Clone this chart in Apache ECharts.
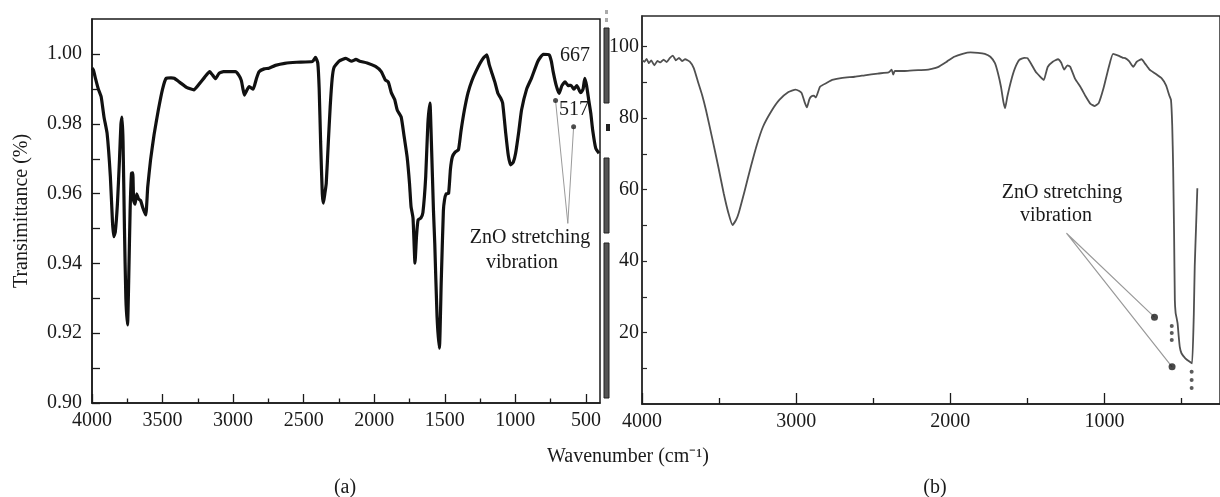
<!DOCTYPE html>
<html><head><meta charset="utf-8">
<script src="https://cdn.jsdelivr.net/npm/echarts@6/dist/echarts.min.js"></script>
<style>html,body{margin:0;padding:0;background:#fff}#c{width:1220px;height:497px}</style>
</head><body><div id="c"></div><script>
// ---- panel (a) spectrum ----
const leftWavenumber = [4000,3990,3975,3955,3935,3915,3893,3870,3855,3846,3835,3820,3805,3795,3787,3780,3770,3760,3748,3740,3730,3720,3711,3705,3695,3683,3670,3655,3640,3619,3605,3585,3560,3530,3500,3474,3440,3418,3380,3330,3278,3240,3200,3166,3145,3124,3100,3068,3020,2984,2960,2942,2930,2920,2905,2886,2858,2835,2816,2780,2746,2700,2634,2550,2438,2416,2400,2390,2380,2368,2360,2350,2340,2325,2312,2298,2285,2250,2201,2160,2130,2103,2050,1991,1950,1921,1900,1879,1855,1837,1809,1790,1767,1750,1739,1725,1711,1700,1689,1670,1655,1635,1620,1605,1595,1580,1571,1555,1538,1525,1510,1502,1490,1473,1460,1446,1425,1403,1385,1361,1335,1306,1280,1250,1225,1202,1185,1165,1145,1124,1105,1090,1068,1050,1034,1015,998,975,956,920,886,840,802,760,745,732,710,690,670,648,625,606,585,564,545,536,520,508,495,480,465,452,430,407];
const leftTransmittance = [0.996,0.9955,0.993,0.990,0.9878,0.982,0.9773,0.965,0.952,0.9477,0.949,0.957,0.970,0.980,0.982,0.975,0.950,0.930,0.9224,0.935,0.955,0.9659,0.966,0.958,0.957,0.960,0.9585,0.958,0.956,0.9539,0.962,0.9697,0.977,0.984,0.990,0.9931,0.9932,0.9931,0.992,0.9905,0.9898,0.9915,0.9935,0.995,0.994,0.993,0.9945,0.995,0.995,0.995,0.994,0.9925,0.990,0.9883,0.9895,0.9907,0.990,0.993,0.995,0.9958,0.996,0.9968,0.9974,0.9977,0.9979,0.9991,0.9975,0.990,0.975,0.960,0.9573,0.960,0.963,0.975,0.985,0.993,0.9962,0.998,0.9988,0.998,0.9985,0.998,0.9975,0.9965,0.995,0.9926,0.992,0.989,0.987,0.984,0.982,0.977,0.9706,0.963,0.9563,0.953,0.9401,0.948,0.9525,0.953,0.9546,0.965,0.980,0.986,0.975,0.955,0.9458,0.925,0.9157,0.935,0.955,0.9582,0.960,0.9601,0.967,0.9706,0.972,0.9726,0.978,0.984,0.989,0.9926,0.995,0.9974,0.999,0.9998,0.997,0.9945,0.992,0.9888,0.9875,0.986,0.9773,0.971,0.9683,0.969,0.9716,0.978,0.984,0.990,0.9931,0.998,1.000,0.9998,0.998,0.995,0.991,0.9888,0.991,0.9921,0.991,0.9911,0.990,0.991,0.9895,0.989,0.990,0.9931,0.991,0.9869,0.983,0.9783,0.973,0.9716];

// ---- panel (b) spectrum ----
const rightWavenumber = [4000,3985,3970,3955,3940,3920,3900,3880,3860,3840,3820,3800,3780,3760,3740,3720,3690,3664,3637,3610,3585,3545,3505,3470,3439,3413,3390,3373,3335,3294,3255,3215,3160,3109,3050,3004,2980,2964,2945,2930,2915,2904,2885,2872,2845,2800,2766,2700,2620,2555,2470,2400,2380,2370,2360,2300,2240,2159,2120,2080,2020,1974,1920,1869,1820,1776,1740,1710,1690,1671,1655,1644,1630,1604,1580,1552,1520,1499,1470,1446,1420,1393,1380,1367,1335,1301,1280,1261,1240,1222,1190,1156,1120,1090,1063,1037,1005,971,944,910,880,865,840,813,790,759,735,707,670,627,600,580,568,560,554,548,543,538,533,525,518,511,500,475,446,431,420,414,405,397];
const rightTransmittance = [96.3,95.8,96.6,95.4,96.2,94.8,96.0,95.6,96.4,95.7,96.8,97.5,96.2,96.9,96.0,96.5,95.8,94.0,90.2,86.5,82.3,74.5,66.4,59.0,53.4,50.1,51.5,53.4,59.5,66.4,72.5,77.6,82.0,85.1,87.3,88.0,87.6,87.0,84.5,83.0,85.2,86.0,86.3,85.8,88.8,89.9,90.7,91.3,91.6,92.0,92.5,92.8,93.6,92.2,93.2,93.2,93.4,93.5,93.8,94.3,95.9,97.2,98.0,98.4,98.3,98.0,97.2,95.4,92.5,88.8,84.5,82.8,86.0,90.7,94.0,96.3,96.9,96.8,94.8,93.0,91.8,90.7,92.5,94.4,95.8,96.5,95.5,93.6,94.8,94.4,91.0,88.8,86.0,84.0,83.4,84.2,88.5,94.4,98.0,97.5,96.9,96.8,96.0,94.4,95.8,96.5,95.2,93.6,92.5,91.1,89.2,86.5,85.1,78.0,66.4,48.0,29.1,25.5,24.4,22.5,19.0,16.0,14.2,12.8,11.8,11.4,25.0,38.4,50.0,60.4];

// ---- axis ticks / labels ----
const leftXLabels = [500,1000,1500,2000,2500,3000,3500,4000];
const leftXMinorTicks = [750,1250,1750,2250,2750,3250,3750];
const leftYLabels = [0.90,0.92,0.94,0.96,0.98,1.00];
const leftYTicks = [0.90,0.91,0.92,0.93,0.94,0.95,0.96,0.97,0.98,0.99,1.00];
const rightXLabels = [1000,2000,3000,4000];
const rightXMinorTicks = [500,1500,2500,3500];
const rightYLabels = [20,40,60,80,100];
const rightYTicks = [10,20,30,40,50,60,70,80,90,100];

// ---- annotation pointers (data coordinates) ----
const leftPointerApex = [628,0.9515];
const leftPointerDots = [[715,0.9867],[587,0.9792]];
const rightPointerApex = [1246,47.8];
const rightPointerDots = [[675,24.3],[561,10.4]];
const rightSmallDots = [[563,21.8],[563,19.9],[563,17.9],[434,9.0],[434,6.7],[434,4.5]];

const FONT = 'Liberation Serif';
const TXT = '#1a1a1a';
const zip = (a,b) => a.map((v,i)=>[v,b[i]]);

function xAxisCfg(grid, min, max, vals, len, labels){
  return {
    gridIndex: grid, type:'value', inverse:true, min:min, max:max, position:'bottom',
    axisLine:{show:labels, onZero:false, lineStyle:{color:'#1a1a1a', width:1.5}},
    axisTick:{show:true, inside:true, length:len, customValues:vals, lineStyle:{color:'#1a1a1a', width:1.3}},
    axisLabel:{show:labels, customValues:vals, formatter:v=>String(v), fontFamily:FONT, fontSize:20, color:TXT, margin:8},
    splitLine:{show:false}
  };
}

const chart = echarts.init(document.getElementById('c'), null, {renderer:'canvas'});
const textStyle = (t,x,y)=>({type:'text', x:x, y:y, style:{text:t, font:'20px "Liberation Serif"', fill:TXT, textAlign:'center', textVerticalAlign:'middle'}});

const option = {
  backgroundColor:'#fff',
  animation:false,
  grid:[
    {left:92, top:19, width:508, height:384, show:true, borderColor:'#1a1a1a', borderWidth:1.5, backgroundColor:'transparent'},
    {left:642, top:16, width:580, height:388, show:true, borderColor:'#2a2a2a', borderWidth:1.5, backgroundColor:'transparent'}
  ],
  xAxis:[
    xAxisCfg(0,400,4000,leftXLabels,9,true),
    xAxisCfg(0,400,4000,leftXMinorTicks,4.5,false),
    xAxisCfg(1,250,4000,rightXLabels,11,true),
    xAxisCfg(1,250,4000,rightXMinorTicks,6,false)
  ],
  yAxis:[
    {gridIndex:0, type:'value', min:0.9, max:1.0101,
     axisLine:{show:true, lineStyle:{color:'#1a1a1a', width:1.5}},
     axisTick:{show:true, inside:true, length:8, customValues:leftYTicks, lineStyle:{color:'#1a1a1a', width:1.3}},
     axisLabel:{customValues:leftYLabels, formatter:v=>v.toFixed(2), fontFamily:FONT, fontSize:20, color:TXT, margin:10},
     splitLine:{show:false},
     name:'Transimittance (%)', nameLocation:'middle', nameGap:60,
     nameTextStyle:{fontFamily:FONT, fontSize:20, color:TXT}},
    {gridIndex:1, type:'value', min:0, max:108.6,
     axisLine:{show:true, lineStyle:{color:'#2a2a2a', width:1.5}},
     axisTick:{show:true, inside:true, length:5, customValues:rightYTicks, lineStyle:{color:'#2a2a2a', width:1.2}},
     axisLabel:{customValues:rightYLabels, formatter:v=>String(v), fontFamily:FONT, fontSize:20, color:TXT, margin:3},
     splitLine:{show:false}}
  ],
  series:[
    {type:'line', xAxisIndex:0, yAxisIndex:0, data:zip(leftWavenumber,leftTransmittance), showSymbol:false, smooth:0.15,
     lineStyle:{color:'#111', width:3.2}, z:3},
    {type:'line', xAxisIndex:2, yAxisIndex:1, data:zip(rightWavenumber,rightTransmittance), showSymbol:false, smooth:0.15,
     lineStyle:{color:'#505050', width:1.8}, z:3},
    // annotation pointers panel (a)
    {type:'line', xAxisIndex:0, yAxisIndex:0, data:[leftPointerDots[0], leftPointerApex, leftPointerDots[1]], showSymbol:false,
     lineStyle:{color:'#9a9a9a', width:1}, z:2},
    {type:'scatter', xAxisIndex:0, yAxisIndex:0, data:leftPointerDots, symbolSize:5, itemStyle:{color:'#222'}, z:4},
    // annotation pointers panel (b)
    {type:'line', xAxisIndex:2, yAxisIndex:1, data:[rightPointerDots[0], rightPointerApex, rightPointerDots[1]], showSymbol:false,
     lineStyle:{color:'#9a9a9a', width:1.2}, z:2},
    {type:'scatter', xAxisIndex:2, yAxisIndex:1, data:rightPointerDots, symbolSize:7, itemStyle:{color:'#1a1a1a'}, z:4},
    {type:'scatter', xAxisIndex:2, yAxisIndex:1, data:rightSmallDots, symbolSize:4, itemStyle:{color:'#333'}, z:4}
  ],
  graphic:[
    textStyle('667',575,56),
    textStyle('517',574,110),
    textStyle('ZnO stretching',530,238),
    textStyle('vibration',522,263),
    textStyle('ZnO stretching',1062,193),
    textStyle('vibration',1056,216),
    textStyle('Wavenumber (cm\u207B\u00B9)',628,457),
    textStyle('(a)',345,488),
    textStyle('(b)',935,488),
    // scanned separator strip between panels
    {type:'rect', shape:{x:604,y:28,width:5,height:75}, style:{fill:'#555', stroke:'#222', lineWidth:1}},
    {type:'rect', shape:{x:604,y:158,width:5,height:75}, style:{fill:'#555', stroke:'#222', lineWidth:1}},
    {type:'rect', shape:{x:604,y:243,width:5,height:155}, style:{fill:'#555', stroke:'#222', lineWidth:1}},
    {type:'rect', shape:{x:606,y:124,width:4,height:7}, style:{fill:'#222'}},
    {type:'rect', shape:{x:605,y:10,width:3,height:4}, style:{fill:'#aaa'}},
    {type:'rect', shape:{x:605,y:18,width:3,height:4}, style:{fill:'#aaa'}}
  ]
};
chart.setOption(option);
</script></body></html>
